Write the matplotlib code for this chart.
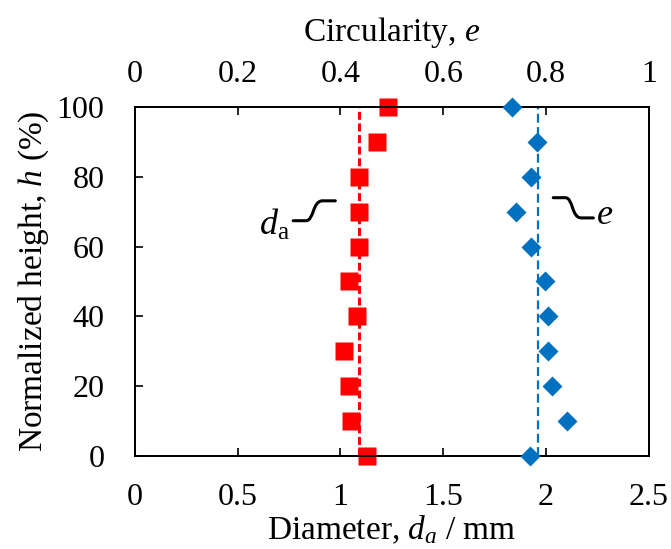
import numpy as np
import matplotlib
matplotlib.use("Agg")
from matplotlib import pyplot as plt
from matplotlib.path import Path
from matplotlib.patches import PathPatch

plt.rcParams['font.family'] = ['Liberation Serif', 'DejaVu Serif']
plt.rcParams['mathtext.fontset'] = 'custom'
plt.rcParams['mathtext.rm'] = 'Liberation Serif'
plt.rcParams['mathtext.it'] = 'Liberation Serif:italic'

# normalized height (%)
height = [100, 90, 80, 70, 60, 50, 40, 30, 20, 10, 0]
# diameter d_a (mm), bottom axis
diameter = [1.23, 1.18, 1.09, 1.09, 1.09, 1.04, 1.08, 1.015, 1.04, 1.05, 1.13]
# circularity e, top axis
circularity = [0.733, 0.783, 0.771, 0.742, 0.771, 0.798, 0.803, 0.804, 0.811, 0.840, 0.768]
# mean lines
diameter_mean = 1.091
circularity_mean = 0.784

red = '#FF0000'
blue = '#0070C0'

fig = plt.figure(figsize=(6.71, 5.49), dpi=100)
ax = fig.add_axes([0.201, 0.170, 0.766, 0.635])
ax2 = ax.twiny()

ax.plot([diameter_mean, diameter_mean], [0, 100], ls=(0, (2.6, 1.2)), color=red, lw=2.2, zorder=2)
ax.plot(diameter, height, 's', color=red, ms=12.5, mec='none', clip_on=False, zorder=3)

ax2.plot([circularity_mean, circularity_mean], [0, 100], ls=(0, (4, 2)), color=blue, lw=1.6, zorder=2)
ax2.plot(circularity, height, 'D', color=blue, ms=10.5, mec='none', clip_on=False, zorder=3)

ax.set_xlim(0, 2.5)
ax.set_ylim(0, 100)
ax2.set_xlim(0, 1)
ax.set_xticks([0, 0.5, 1, 1.5, 2, 2.5])
ax.set_xticklabels(['0', '0.5', '1', '1.5', '2', '2.5'])
ax.set_yticks([0, 20, 40, 60, 80, 100])
ax2.set_xticks([0, 0.2, 0.4, 0.6, 0.8, 1])
ax2.set_xticklabels(['0', '0.2', '0.4', '0.6', '0.8', '1'])

for a in (ax, ax2):
    for s in a.spines.values():
        s.set_linewidth(1.3)
ax.tick_params(axis='x', direction='in', length=6, width=1.2, labelsize=23, pad=20)
ax.tick_params(axis='y', direction='in', length=6, width=1.2, labelsize=23, pad=22)
ax2.tick_params(axis='x', direction='in', length=6, width=1.2, labelsize=23, pad=13)

ax.set_xlabel('Diameter, $d_a$ / mm', fontsize=24, labelpad=1)
ax.set_ylabel('Normalized height, $h$ (%)', fontsize=24, labelpad=4)
ax2.set_xlabel('Circularity, $e$', fontsize=24, labelpad=14)

# leader curves for labels
def s_curve(x0, y0, x1, y1):
    w = x1 - x0
    verts = [(x0, y0), (x0 + 0.3 * w, y0),
             (x0 + 0.5 * w, y0), (x0 + 0.45 * w, y1), (x0 + 0.7 * w, y1),
             (x1, y1)]
    codes = [Path.MOVETO, Path.LINETO,
             Path.CURVE4, Path.CURVE4, Path.CURVE4,
             Path.LINETO]
    return Path(verts, codes)

ax.add_patch(PathPatch(s_curve(0.77, 67.4, 0.975, 73.1), fill=False, lw=2.2, color='black', capstyle='round', clip_on=False))
ax.text(0.755, 66.0, '$d_{\\mathrm{a}}$', fontsize=26, ha='right', va='center')
ax.add_patch(PathPatch(s_curve(2.035, 74.0, 2.23, 68.2), fill=False, lw=2.2, color='black', capstyle='round', clip_on=False))
ax.text(2.245, 68.8, '$e$', fontsize=26, ha='left', va='center')

fig.savefig('out.png', dpi=100)
